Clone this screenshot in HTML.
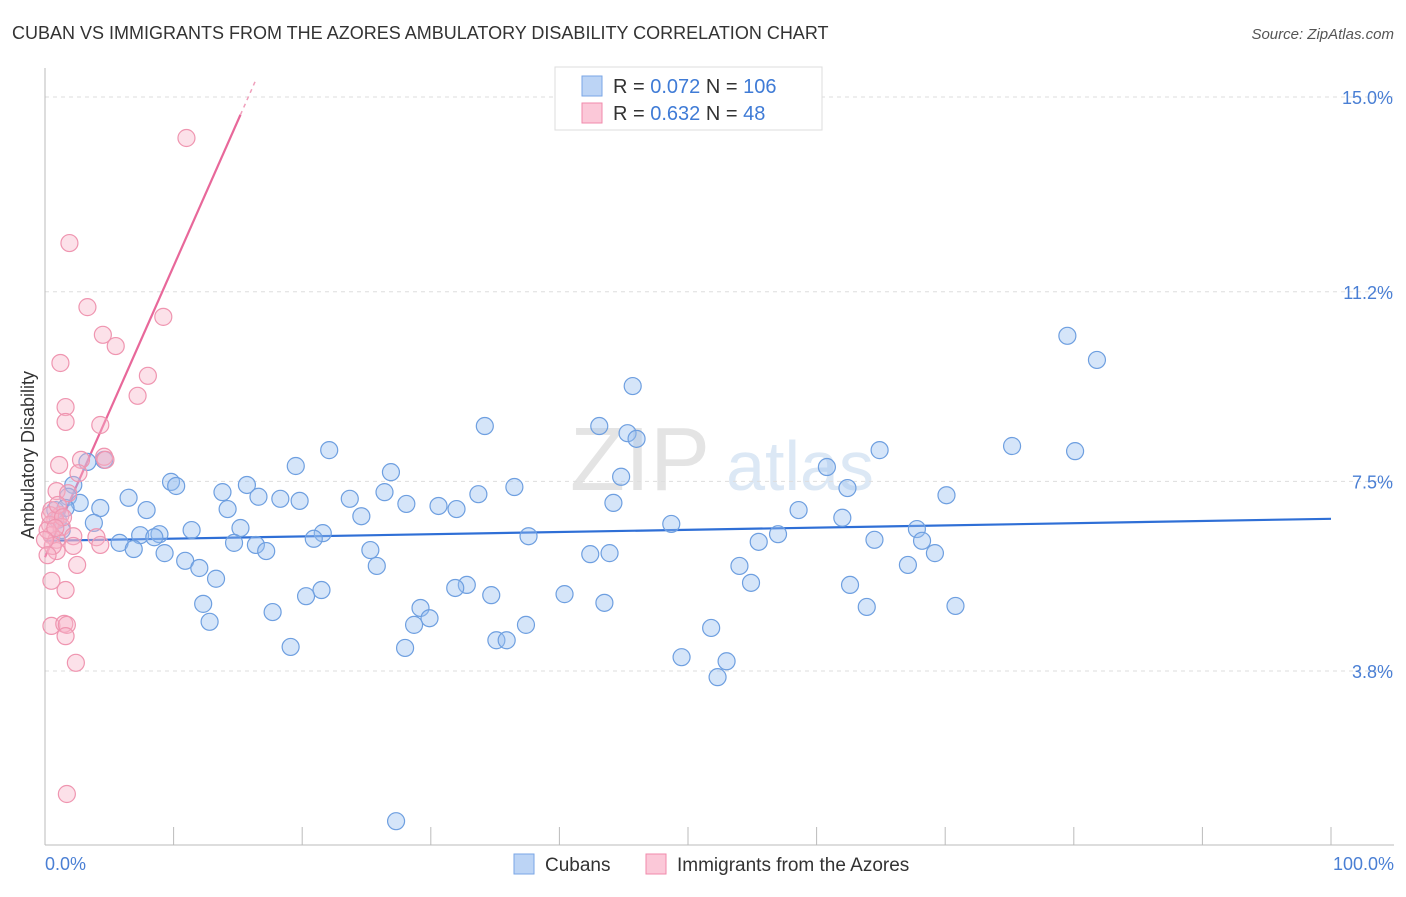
<!DOCTYPE html>
<html><head><meta charset="utf-8"><style>
body{margin:0;background:#fff;font-family:"Liberation Sans",sans-serif}
svg text{font-family:"Liberation Sans",sans-serif}
</style></head><body>
<svg id="chart" width="1406" height="892">
<text x="12" y="39" font-size="18" fill="#333">CUBAN VS IMMIGRANTS FROM THE AZORES AMBULATORY DISABILITY CORRELATION CHART</text>
<text x="1394" y="39" font-size="15" fill="#555" text-anchor="end" font-style="italic">Source: ZipAtlas.com</text>
<text x="640" y="490" font-size="90" fill="#e4e4e4" font-family="Liberation Serif" text-anchor="middle">ZIP</text>
<text x="800" y="490" font-size="70" fill="#dce8f5" text-anchor="middle">atlas</text>
<g id="grid"></g><g id="axes"></g><g id="lines"></g><g id="pts"></g>
<text transform="translate(34,455) rotate(-90)" font-size="18" fill="#333" text-anchor="middle">Ambulatory Disability</text>
<text x="45" y="870" font-size="18" fill="#4a7fd4">0.0%</text>
<text x="1394" y="870" font-size="18" fill="#4a7fd4" text-anchor="end">100.0%</text>
<g>
<rect x="555" y="67" width="267" height="63" fill="#fff" stroke="#ddd"/>
<rect x="582" y="76" width="20" height="20" fill="#bcd4f5" stroke="#7aa6e6"/>
<rect x="582" y="103" width="20" height="20" fill="#fbc8d8" stroke="#f08aab"/>
<text x="613" y="93" font-size="20" fill="#333">R = <tspan fill="#3f7bd6">0.072</tspan>   N = <tspan fill="#3f7bd6">106</tspan></text>
<text x="613" y="120" font-size="20" fill="#333">R = <tspan fill="#3f7bd6">0.632</tspan>   N =   <tspan fill="#3f7bd6">48</tspan></text>
</g>
<g>
<rect x="514" y="854" width="20" height="20" fill="#bcd4f5" stroke="#7aa6e6"/>
<text x="545" y="871" font-size="19" fill="#333">Cubans</text>
<rect x="646" y="854" width="20" height="20" fill="#fbc8d8" stroke="#f08aab"/>
<text x="677" y="871" font-size="19" fill="#333">Immigrants from the Azores</text>
</g>
</svg>
<script>
const yTicks=[3.8,7.5,11.2,15.0];
const yTickLabels=["3.8%","7.5%","11.2%","15.0%"];
const xTicks=[0,10,20,30,40,50,60,70,80,90,100];
const cubanX=[79.5,81.8,45.7,34.2,43.1,45.3,46.0,64.9,75.2,80.1,22.1,4.6,3.3,19.5,26.9,60.8,44.8,9.8,10.2,15.7,36.5,70.1,62.4,13.8,26.4,33.7,2.2,1.8,6.5,16.6,18.3,19.8,23.7,28.1,30.6,32.0,44.2,2.7,4.3,7.9,14.2,24.6,58.6,62.0,48.7,3.8,11.4,15.2,8.9,7.4,8.5,21.6,20.9,37.6,57.0,67.8,68.2,64.5,55.5,5.8,14.7,16.4,17.2,6.9,9.3,25.3,42.4,43.9,69.2,10.9,12.0,25.8,54.0,67.1,13.3,54.9,32.8,31.9,21.5,20.3,62.6,40.4,34.7,12.3,43.5,63.9,70.8,29.2,17.7,29.9,12.8,28.7,37.4,51.8,35.1,35.9,19.1,28.0,49.5,53.0,52.3,27.3,1.0,0.8,1.3,1.6];
const cubanY=[10.34,9.87,9.36,8.58,8.58,8.44,8.33,8.11,8.19,8.09,8.11,7.92,7.88,7.80,7.68,7.78,7.59,7.49,7.41,7.43,7.39,7.23,7.37,7.29,7.29,7.25,7.43,7.20,7.18,7.20,7.16,7.12,7.16,7.06,7.02,6.96,7.08,7.08,6.98,6.94,6.96,6.82,6.94,6.79,6.67,6.69,6.55,6.59,6.47,6.45,6.41,6.49,6.38,6.43,6.47,6.57,6.34,6.36,6.32,6.30,6.30,6.26,6.14,6.18,6.10,6.16,6.08,6.10,6.10,5.95,5.81,5.85,5.85,5.87,5.60,5.52,5.48,5.42,5.38,5.26,5.48,5.30,5.28,5.11,5.13,5.05,5.07,5.03,4.95,4.83,4.76,4.70,4.70,4.64,4.40,4.40,4.27,4.25,4.07,3.99,3.68,0.87,6.75,6.94,6.55,6.98];
const azoresX=[11.0,1.9,3.3,9.2,4.5,5.5,1.2,8.0,7.2,1.6,1.6,4.3,4.6,2.8,1.1,2.6,0.9,1.8,0.5,1.2,0.8,0.4,1.3,0.5,0.9,4.0,2.2,4.3,2.2,0.9,0.6,2.5,0.5,1.6,0.5,1.5,1.7,1.6,2.4,1.7,0.2,0.4,1.0,1.4,0.8,4.7,0.0,0.2];
const azoresY=[14.20,12.15,10.90,10.71,10.36,10.14,9.81,9.56,9.17,8.95,8.66,8.60,7.98,7.92,7.82,7.66,7.31,7.27,6.94,6.84,6.75,6.65,6.61,6.45,6.36,6.41,6.43,6.26,6.24,6.14,6.24,5.87,5.56,5.38,4.68,4.72,4.70,4.48,3.96,1.40,6.55,6.84,7.04,6.80,6.59,7.92,6.36,6.06];
const cubanFit=[6.34,0.0043];   // intercept, slope
const azoresFit=[6.02,0.568];

const X0=45,X1=1331,Y15=97,PPU=51.25;
const sx=v=>X0+(X1-X0)*v/100;
const sy=v=>Y15+(15-v)*PPU;
const NS="http://www.w3.org/2000/svg";
function mk(tag,attrs,parent){const e=document.createElementNS(NS,tag);for(const k in attrs)e.setAttribute(k,attrs[k]);document.getElementById(parent).appendChild(e);return e;}

yTicks.forEach((t,i)=>{
  const g=mk('line',{x1:X0,x2:1394,y1:sy(t),y2:sy(t),stroke:'#ddd','stroke-dasharray':'4,4'},'grid');
  
  
  const l=mk('text',{x:1393,y:sy(t)+7,'font-size':18,fill:'#4a7fd4','text-anchor':'end'},'grid');
  l.textContent=yTickLabels[i];
  
  
});
const ya=mk('line',{x1:X0,x2:X0,y1:68,y2:845,stroke:'#bbb'},'axes');


const xa=mk('line',{x1:X0,x2:1394,y1:845,y2:845,stroke:'#bbb'},'axes');


xTicks.forEach(t=>{
  const k=mk('line',{x1:sx(t),x2:sx(t),y1:827,y2:845,stroke:'#bbb'},'axes');
  
  
});
cubanX.forEach((x,i)=>{
  const c=mk('circle',{cx:sx(x),cy:sy(cubanY[i]),r:8.5,fill:'rgba(150,190,240,0.4)',stroke:'#6e9fe0','stroke-width':1.2},'pts');
  
  
});
azoresX.forEach((x,i)=>{
  const c=mk('circle',{cx:sx(x),cy:sy(azoresY[i]),r:8.5,fill:'rgba(248,180,200,0.4)',stroke:'#ef95b0','stroke-width':1.2},'pts');
  
  
});
const bl=mk('line',{x1:sx(0),y1:sy(cubanFit[0]),x2:sx(100),y2:sy(cubanFit[0]+cubanFit[1]*100),stroke:'#2f6fd6','stroke-width':2.2},'lines');


const pl=mk('line',{x1:sx(0),y1:sy(azoresFit[0]),x2:sx(15.2),y2:sy(azoresFit[0]+azoresFit[1]*15.2),stroke:'#e8689a','stroke-width':2.2},'lines');


const pd=mk('line',{x1:sx(15.2),y1:sy(azoresFit[0]+azoresFit[1]*15.2),x2:sx(16.4),y2:sy(azoresFit[0]+azoresFit[1]*16.4),stroke:'#f0a0bc','stroke-width':1.5,'stroke-dasharray':'4,4'},'lines');


</script>
</body></html>
